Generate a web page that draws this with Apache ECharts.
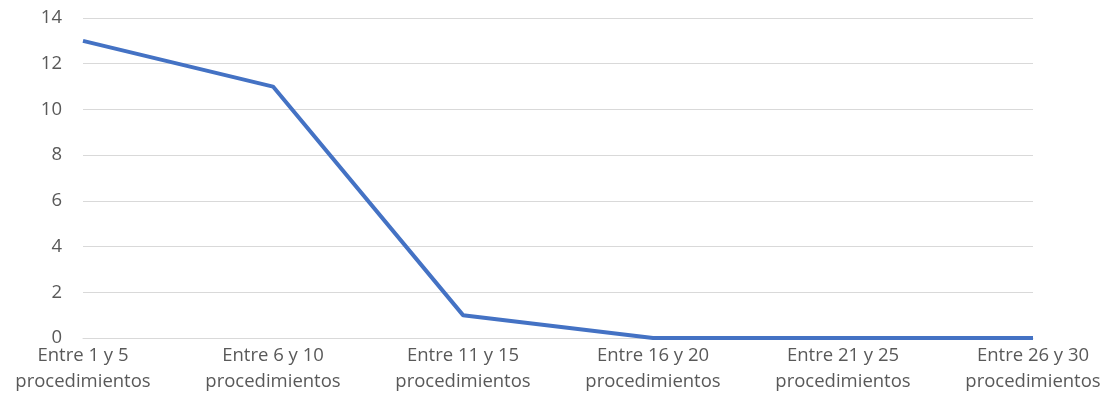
<!DOCTYPE html>
<html><head><meta charset="utf-8">
<script src="https://cdn.jsdelivr.net/npm/echarts@6/dist/echarts.min.js"></script>
<style>html,body{margin:0;padding:0;background:#fff}#c{width:1104px;height:408px}</style>
</head><body><div id="c"></div>
<script>
const categories = ["Entre 1 y 5\nprocedimientos","Entre 6 y 10\nprocedimientos","Entre 11 y 15\nprocedimientos","Entre 16 y 20\nprocedimientos","Entre 21 y 25\nprocedimientos","Entre 26 y 30\nprocedimientos"];
const values = [13, 11, 1, 0, 0, 0];
const chart = echarts.init(document.getElementById('c'));
chart.setOption({
  animation:false,
  grid:{left:83,right:71,top:18,bottom:70,containLabel:false},
  xAxis:{type:'category',data:categories,boundaryGap:false,
    axisLine:{show:true,lineStyle:{color:'#d9d9d9',width:1}},
    axisTick:{show:false},
    axisLabel:{color:'#595959',fontSize:18.5,fontFamily:'Open Sans, sans-serif',lineHeight:26,margin:5,interval:0}
  },
  yAxis:{type:'value',min:0,max:14,interval:2,
    axisLine:{show:false},axisTick:{show:false},
    splitLine:{lineStyle:{color:'#d9d9d9',width:1}},
    axisLabel:{color:'#595959',fontSize:18.5,fontFamily:'Open Sans, sans-serif',margin:21}
  },
  series:[{type:'line',data:values,symbol:'none',lineStyle:{color:'#4472C4',width:4},itemStyle:{color:'#4472C4'}}]
});
</script></body></html>
